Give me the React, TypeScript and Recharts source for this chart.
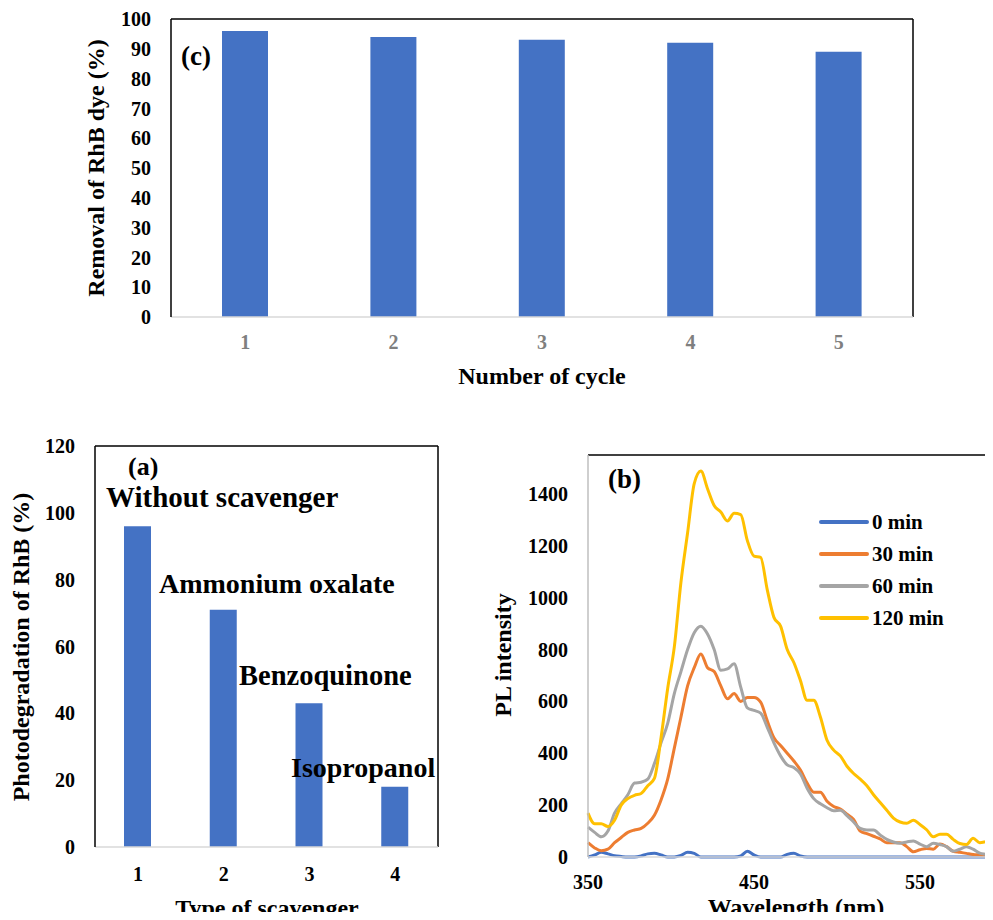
import React from "react";
import { BarChart, Bar, LineChart, Line, XAxis, YAxis, Legend, ReferenceLine } from "recharts";

const FONT = "'Liberation Serif', 'Times New Roman', serif";
const BLUE = "#4472C4";

// (c) reuse cycles
const cycles = [1, 2, 3, 4, 5];
const removal = [96, 94, 93, 92, 89];
const removalTicks = [0, 10, 20, 30, 40, 50, 60, 70, 80, 90, 100];

// (a) scavenger test
const scavengerTypes = [1, 2, 3, 4];
const scavengerNames = ["Without scavenger", "Ammonium oxalate", "Benzoquinone", "Isopropanol"];
const photodegradation = [96, 71, 43, 18];
const photoTicks = [0, 20, 40, 60, 80, 100, 120];

// (b) PL spectra
const wavelengths = [
  350, 354, 358, 362, 366, 370, 374, 378, 382, 386, 390, 394, 398, 402, 406, 410,
  414, 418, 422, 426, 430, 434, 438, 442, 446, 450, 454, 458, 462, 466, 470, 474,
  478, 482, 486, 490, 494, 498, 502, 506, 510, 514, 518, 522, 526, 530, 534, 538,
  542, 546, 550, 554, 558, 562, 566, 570, 574, 578, 582, 586, 590, 594, 598,
];
const pl0 = [
  0, 8, 18, 12, 5, 2, 0, 0, 4, 12, 14, 8, 0, 0, 6, 18,
  14, 0, 0, 0, 0, 0, 0, 4, 22, 8, 0, 0, 0, 0, 10, 14,
  4, 0, 0, 0, 0, 0, 0, 0, 0, 0, 0, 0, 0, 0, 0, 0,
  0, 0, 0, 0, 0, 0, 0, 0, 0, 0, 0, 0, 0, 0, 0,
];
const pl30 = [
  55, 35, 24, 30, 55, 75, 95, 104, 110, 130, 161, 220, 300, 420, 540, 660,
  730, 783, 730, 715, 660, 610, 630, 600, 615, 615, 597, 525, 460, 430, 400, 370,
  335, 285, 250, 250, 215, 195, 185, 165, 145, 100, 90, 80, 70, 55, 55, 55,
  40, 20, 28, 33, 30, 50, 40, 22, 18, 14, 10, 8, 6, 4, 2,
];
const pl60 = [
  115, 95, 78, 100, 169, 205, 240, 285, 288, 300, 360, 440, 515, 630, 715, 800,
  865, 890, 860, 800, 720, 725, 745, 655, 575, 565, 555, 500, 440, 390, 355, 345,
  320, 265, 225, 205, 190, 178, 180, 160, 135, 110, 104, 104, 85, 68, 58, 53,
  58, 62, 50, 40, 53, 48, 40, 22, 30, 40, 30, 15, 10, 4, 2,
];
const pl120 = [
  169, 128, 128, 118, 142, 200, 225, 238, 245, 275, 303, 460, 650, 810, 1060, 1250,
  1440, 1488, 1420, 1355, 1330, 1296, 1325, 1320, 1220, 1160, 1155, 1030, 924, 890, 800, 750,
  680, 604, 604, 540, 450, 412, 390, 350, 322, 300, 275, 240, 210, 180, 150, 135,
  130, 142, 125, 105, 78, 88, 88, 68, 52, 48, 72, 55, 60, 65, 60,
];
const plTicks = [0, 200, 400, 600, 800, 1000, 1200, 1400];
const wlTicks = [350, 450, 550];
const seriesNames = ["0 min", "30 min", "60 min", "120 min"];
const seriesColors = ["#4472C4", "#ED7D31", "#A5A5A5", "#FFC000"];

const cycleData = cycles.map((c, i) => ({ cycle: c, removal: removal[i] }));
const scavengerData = scavengerTypes.map((t, i) => ({ type: t, value: photodegradation[i] }));
const plData = wavelengths.map((w, i) => ({
  wl: w,
  m0: pl0[i],
  m30: pl30[i],
  m60: pl60[i],
  m120: pl120[i],
}));
const plKeys = ["m0", "m30", "m60", "m120"];

const tickStyle = { fontFamily: FONT, fontSize: 20, fontWeight: "bold", fill: "#000" };
const grayTick = { ...tickStyle, fill: "#7f7f7f" };
const border = { stroke: "#000", strokeWidth: 1.5 };

const renderLegend = (props: any) => {
  const items = [...(props.payload || [])].sort(
    (a: any, b: any) => seriesNames.indexOf(a.value) - seriesNames.indexOf(b.value)
  );
  return (
    <div>
      {items.map((p: any) => (
        <div key={p.value} style={{ display: "flex", alignItems: "center", height: 32 }}>
          <svg width={50} height={8}>
            <line x1={2} y1={4} x2={48} y2={4} stroke={p.color} strokeWidth={4} strokeLinecap="round" />
          </svg>
          <span style={{ fontFamily: FONT, fontWeight: "bold", fontSize: 21, marginLeft: 3, lineHeight: 1 }}>
            {p.value}
          </span>
        </div>
      ))}
    </div>
  );
};

export default function App() {
  const txt = { fontFamily: FONT, fontWeight: "bold", fill: "#000" } as const;
  return (
    <div
      style={{
        position: "relative",
        width: 993,
        height: 920,
        margin: -8,
        overflow: "hidden",
        background: "#fff",
      }}
    >
      {/* (c) */}
      <div style={{ position: "absolute", left: 0, top: 0 }}>
        <BarChart width={993} height={400} data={cycleData} margin={{ top: 19, right: 80, bottom: 43, left: 0 }}>
          <XAxis
            dataKey="cycle"
            type="number"
            domain={[0.5, 5.5]}
            ticks={cycles}
            interval={0}
            height={40}
            tickLine={false}
            tickSize={0}
            tickMargin={18}
            axisLine={{ stroke: "#d9d9d9", strokeWidth: 1.5 }}
            tick={grayTick}
          />
          <YAxis
            domain={[0, 100]}
            ticks={removalTicks}
            interval={0}
            width={171}
            tickLine={false}
            tickSize={0}
            tickMargin={20}
            axisLine={border}
            tick={tickStyle}
          />
          <Bar dataKey="removal" fill={BLUE} barSize={46} isAnimationActive={false} />
          <ReferenceLine y={100} {...border} />
          <ReferenceLine x={5.5} {...border} />
        </BarChart>
      </div>

      {/* (a) */}
      <div style={{ position: "absolute", left: 0, top: 400 }}>
        <BarChart width={480} height={520} data={scavengerData} margin={{ top: 46, right: 42, bottom: 33, left: 0 }}>
          <XAxis
            dataKey="type"
            type="number"
            domain={[0.5, 4.5]}
            ticks={scavengerTypes}
            interval={0}
            height={40}
            tickLine={false}
            tickSize={0}
            tickMargin={20}
            axisLine={{ stroke: "#d9d9d9", strokeWidth: 1.5 }}
            tick={tickStyle}
          />
          <YAxis
            domain={[0, 120]}
            ticks={photoTicks}
            interval={0}
            width={95}
            tickLine={false}
            tickSize={0}
            tickMargin={20}
            axisLine={border}
            tick={tickStyle}
          />
          <Bar dataKey="value" fill={BLUE} barSize={27} isAnimationActive={false} />
          <ReferenceLine y={120} {...border} />
          <ReferenceLine x={4.5} {...border} />
        </BarChart>
      </div>

      {/* (b) */}
      <div style={{ position: "absolute", left: 480, top: 400 }}>
        <LineChart width={530} height={520} data={plData} margin={{ top: 55, right: 7, bottom: 23, left: 0 }}>
          <XAxis
            dataKey="wl"
            type="number"
            domain={[350, 600]}
            ticks={wlTicks}
            interval={0}
            height={40}
            tickLine={false}
            tickSize={0}
            tickMargin={18}
            axisLine={{ stroke: "#d9d9d9", strokeWidth: 1.5 }}
            tick={tickStyle}
          />
          <YAxis
            domain={[0, 1550]}
            ticks={plTicks}
            interval={0}
            width={108}
            tickLine={false}
            tickSize={0}
            tickMargin={20}
            axisLine={{ stroke: "#bfbfbf", strokeWidth: 1.5 }}
            tick={tickStyle}
          />
          <ReferenceLine y={1550} {...border} />
          <Legend
            layout="vertical"
            align="center"
            verticalAlign="middle"
            content={renderLegend}
            wrapperStyle={{ left: 339, top: 106, width: 200 }}
          />
          {plKeys.map((k, i) => (
            <Line
              key={k}
              type="monotone"
              dataKey={k}
              name={seriesNames[i]}
              stroke={seriesColors[i]}
              strokeWidth={3}
              dot={false}
              isAnimationActive={false}
            />
          ))}
        </LineChart>
      </div>

      {/* titles and annotations */}
      <svg
        width={993}
        height={920}
        style={{ position: "absolute", left: 0, top: 0, pointerEvents: "none" }}
      >
        <text {...txt} x={181} y={65} fontSize={27}>(c)</text>
        <text {...txt} x={542} y={384} fontSize={24} textAnchor="middle">Number of cycle</text>
        <text {...txt} fontSize={24} textAnchor="middle" transform="translate(104,168) rotate(-90)">
          Removal of RhB dye (%)
        </text>

        <text {...txt} x={128} y={475} fontSize={26}>(a)</text>
        <text {...txt} x={106} y={507} fontSize={29}>{scavengerNames[0]}</text>
        <text {...txt} x={159} y={593} fontSize={28}>{scavengerNames[1]}</text>
        <text {...txt} x={239} y={685} fontSize={28.5}>{scavengerNames[2]}</text>
        <text {...txt} x={291} y={777} fontSize={28}>{scavengerNames[3]}</text>
        <text {...txt} x={267} y={916} fontSize={24} textAnchor="middle">Type of scavenger</text>
        <text {...txt} fontSize={24} textAnchor="middle" transform="translate(29,647) rotate(-90)">
          Photodegradation of RhB (%)
        </text>

        <text {...txt} x={608} y={488} fontSize={27}>(b)</text>
        <text {...txt} x={796} y={915} fontSize={24} textAnchor="middle">Wavelength (nm)</text>
        <text {...txt} fontSize={24} textAnchor="middle" transform="translate(511,655) rotate(-90)">
          PL intensity
        </text>
      </svg>
    </div>
  );
}
